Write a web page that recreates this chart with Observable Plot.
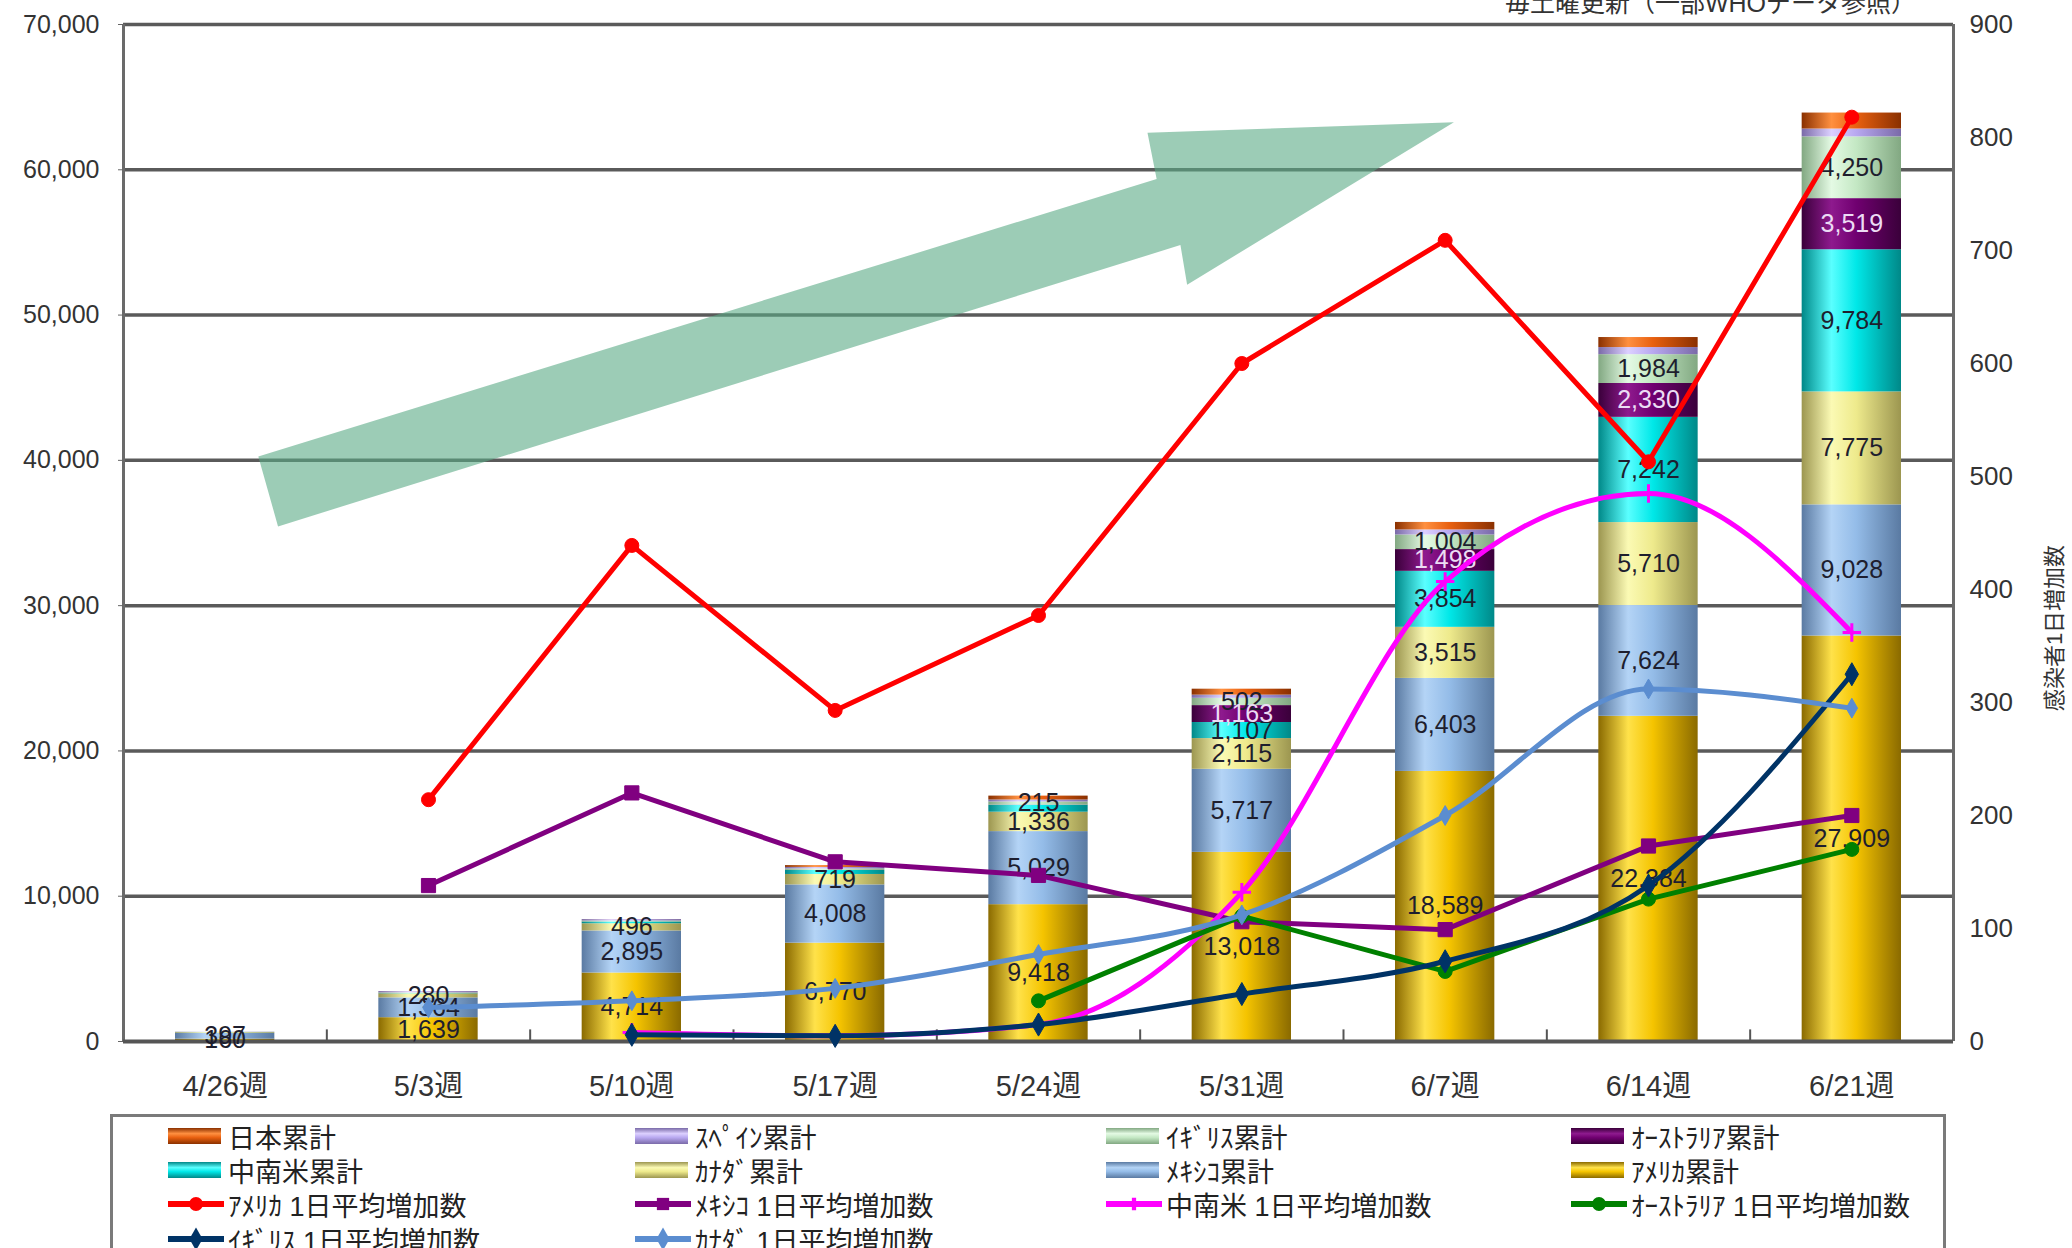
<!DOCTYPE html>
<html><head><meta charset="utf-8">
<script src="https://cdn.jsdelivr.net/npm/d3@7"></script>
<script src="https://cdn.jsdelivr.net/npm/@observablehq/plot@0.6"></script>
<style>
body{margin:0;background:#fff;width:2072px;height:1248px;overflow:hidden;position:relative;font-family:'Liberation Sans','Noto Sans CJK JP',sans-serif;}
#chart{position:absolute;left:0;top:0;}
.note{position:absolute;white-space:nowrap;color:#333;}
#legend{position:absolute;left:110px;top:1114px;width:1836px;height:170px;border:3px solid #7a7a7a;box-sizing:border-box;}
.item{position:absolute;display:flex;align-items:center;font-size:27px;color:#222;white-space:nowrap;height:34px;}
.sw{width:53px;height:16px;margin-right:7px;}
</style></head><body>
<div id="chart"></div>
<div class="note" id="topnote"></div>
<div class="note" id="ytitle"></div>
<div class="note" id="y2title"></div>
<div id="legend"></div>
<script>
// ---------- data ----------
const weeks = ["4/26週","5/3週","5/10週","5/17週","5/24週","5/31週","6/7週","6/14週","6/21週"];
const barSeries = ["ｱﾒﾘｶ累計","ﾒｷｼｺ累計","ｶﾅﾀﾞ累計","中南米累計","ｵｰｽﾄﾗﾘｱ累計","ｲｷﾞﾘｽ累計","ｽﾍﾟｲﾝ累計","日本累計"];
const usCum        = [160, 1639, 4714, 6770, 9418, 13018, 18589, 22384, 27909];
const mexicoCum    = [397, 1364, 2895, 4008, 5029, 5717, 6403, 7624, 9028];
const canadaCum    = [51, 280, 496, 719, 1336, 2115, 3515, 5710, 7775];
const latamCum     = [5, 25, 120, 280, 480, 1107, 3854, 7242, 9784];
const australiaCum = [1, 1, 1, 1, 12, 1163, 1498, 2330, 3519];
const ukCum        = [15, 39, 68, 101, 215, 502, 1004, 1984, 4250];
const spainCum     = [13, 88, 98, 103, 133, 218, 350, 490, 540];
const japanCum     = [0, 4, 4, 125, 267, 410, 514, 690, 1100];
const barValues = [usCum, mexicoCum, canadaCum, latamCum, australiaCum, ukCum, spainCum, japanCum];

const lineNames = ["ｱﾒﾘｶ 1日平均増加数","ﾒｷｼｺ 1日平均増加数","中南米  1日平均増加数","ｵｰｽﾄﾗﾘｱ 1日平均増加数","ｲｷﾞﾘｽ 1日平均増加数","ｶﾅﾀﾞ 1日平均増加数"];
const usDaily        = [null, 214, 439, 293, 377, 600, 709, 513, 818];
const mexicoDaily    = [null, 138, 220, 159, 147, 106, 99, 173, 200];
const latamDaily     = [null, null, 8, 5, 15, 132, 407, 485, 362];
const australiaDaily = [null, null, null, null, 36, 111, 62, 126, 170];
const ukDaily        = [null, null, 6, 5, 15, 42, 71, 138, 325];
const canadaDaily    = [null, 30, 36, 47, 77, 112, 200, 312, 295];
const lineValues = [usDaily, mexicoDaily, latamDaily, australiaDaily, ukDaily, canadaDaily];

const leftTicks = [0, 10000, 20000, 30000, 40000, 50000, 60000, 70000];
const rightTicks = [0, 100, 200, 300, 400, 500, 600, 700, 800, 900];

// decorative trend arrow, in data units (x = week position, y = left-axis value)
const arrowX = [0.663, 5.081, 5.036, 6.543, 5.231, 5.198, 0.760];
const arrowY = [40273, 59364, 62545, 63273, 52091, 54818, 35455];

// ---------- styles ----------
const barColors = [ // [edge dark, highlight, base]
  ["#8a6a00", "#ffe24a", "#f5c400"],
  ["#5a7aa2", "#b4d4f6", "#94bce8"],
  ["#9c9650", "#fbfab4", "#eeea8c"],
  ["#008888", "#5affff", "#00e8e8"],
  ["#3a003a", "#8e1a8e", "#700070"],
  ["#82a882", "#e4fae4", "#c4e8c4"],
  ["#7a6aa8", "#dcd0ff", "#b8a8f0"],
  ["#8a3000", "#ff9040", "#e86010"]
];
const lineStyles = [
  {color: "#ff0000", symbol: "circle", r: 7, curve: "linear"},
  {color: "#800080", symbol: "square", r: 8, curve: "linear"},
  {color: "#ff00ff", symbol: "plus", r: 6, curve: "monotone-x"},
  {color: "#008000", symbol: "circle", r: 7, curve: "linear"},
  {color: "#003366", symbol: "diamond", r: 7, curve: "monotone-x"},
  {color: "#5b8dd0", symbol: "diamond", r: 6, curve: "monotone-x"}
];

const K = 70000 / 900;
const fmt = d3.format(",");

const barData = [];
barSeries.forEach((s, si) => barValues[si].forEach((v, i) => barData.push({i, s, si, v})));

const arrowPts = arrowX.map((x, k) => ({x, y: arrowY[k]}));

const lineMarks = [];
lineValues.forEach((vals, li) => {
  const st = lineStyles[li];
  const pts = vals.map((v, i) => ({i, v})).filter(d => d.v != null);
  lineMarks.push(Plot.line(pts, {x: d => d.i + 0.5, y: d => d.v * K, stroke: st.color, strokeWidth: 5, curve: st.curve}));
  if (st.symbol === "plus") {
    lineMarks.push(Plot.dot(pts, {x: d => d.i + 0.5, y: d => d.v * K, symbol: "plus", r: st.r, stroke: st.color, strokeWidth: 3}));
  } else {
    lineMarks.push(Plot.dot(pts, {x: d => d.i + 0.5, y: d => d.v * K, symbol: st.symbol, r: st.r, fill: st.color, stroke: st.color, strokeWidth: 1}));
  }
});

const labelText = d => {
  if (d.si >= 6) return "";
  if (d.si <= 1 || d.v >= 490 || (d.si === 2 && d.v >= 250) || (d.si === 5 && d.v >= 200)) return fmt(d.v);
  return "";
};

const plot = Plot.plot({
  width: 2072, height: 1110,
  marginLeft: 123, marginRight: 119, marginTop: 24, marginBottom: 69,
  style: {fontFamily: "'Liberation Sans','Noto Sans CJK JP',sans-serif", background: "transparent", color: "#333", overflow: "visible"},
  x: {domain: [0, 9], axis: null},
  y: {domain: [0, 70000], axis: null},
  color: {type: "ordinal", domain: barSeries, range: barSeries.map((s, i) => `url(#grad${i})`)},
  marks: [
    Plot.ruleY(leftTicks.slice(1), {stroke: "#5a5a5a", strokeWidth: 3.5}),
    Plot.ruleX([0, 9], {stroke: "#6a6a6a", strokeWidth: 3}),
    Plot.line(arrowPts, {x: "x", y: "y", fill: "#5aaa85", fillOpacity: 0.6, stroke: "none"}),
    Plot.rectY(barData, {x: "i", interval: 1, y: "v", fill: "s", insetLeft: 52, insetRight: 52}),
    Plot.ruleY([0], {stroke: "#555", strokeWidth: 4}),
    Plot.ruleX(d3.range(1, 9), {y1: 0, y2: 800, stroke: "#555", strokeWidth: 2}),
    Plot.text(barData, Plot.stackY({x: d => d.i + 0.5, y: "v", z: "s", text: d => d.si === 4 ? "" : labelText(d), fontSize: 25, fill: "#1e1e2e"})),
    Plot.text(barData, Plot.stackY({x: d => d.i + 0.5, y: "v", z: "s", text: d => d.si === 4 ? labelText(d) : "", fontSize: 25, fill: "#ecdcf4"})),
    ...lineMarks,
    Plot.axisY(leftTicks, {anchor: "left", tickFormat: fmt, tickSize: 5, tickPadding: 19, fontSize: 25, stroke: "#666"}),
    Plot.axisY(rightTicks.map(v => v * K), {anchor: "right", tickFormat: d => Math.round(d / K), tickSize: 0, tickPadding: 16, fontSize: 26}),
    Plot.axisX(d3.range(9).map(i => i + 0.5), {tickFormat: d => weeks[Math.floor(d)], tickSize: 0, tickPadding: 34, fontSize: 29})
  ]
});

const defs = d3.select(plot).insert("defs", ":first-child");
barColors.forEach((c, i) => {
  const g = defs.append("linearGradient").attr("id", "grad" + i).attr("x1", 0).attr("x2", 1).attr("y1", 0).attr("y2", 0);
  [[0, c[0]], [0.3, c[1]], [0.55, c[2]], [1, c[0]]].forEach(([o, col]) => g.append("stop").attr("offset", o).attr("stop-color", col));
});
document.getElementById("chart").append(plot);

// ---------- titles ----------
const tn = document.getElementById("topnote");
tn.textContent = "毎土曜更新（一部WHOデータ参照）";
Object.assign(tn.style, {right: (2072 - 1916) + "px", top: "-17px", fontSize: "25px"});
const yt = document.getElementById("y2title");
yt.textContent = "感染者1日増加数";
Object.assign(yt.style, {left: "2052px", top: "628px", fontSize: "22px", transform: "translate(-50%,-50%) rotate(-90deg)"});
const yl = document.getElementById("ytitle");
yl.textContent = "感染者累計";
Object.assign(yl.style, {left: "0px", top: "570px", fontSize: "22px", color: "#ccc", transform: "translate(-65%,-50%) rotate(-90deg)"});

// ---------- legend ----------
const legendItems = [
  {name: "日本累計", bar: 7}, {name: "ｽﾍﾟｲﾝ累計", bar: 6}, {name: "ｲｷﾞﾘｽ累計", bar: 5}, {name: "ｵｰｽﾄﾗﾘｱ累計", bar: 4},
  {name: "中南米累計", bar: 3}, {name: "ｶﾅﾀﾞ累計", bar: 2}, {name: "ﾒｷｼｺ累計", bar: 1}, {name: "ｱﾒﾘｶ累計", bar: 0},
  {name: lineNames[0], line: 0}, {name: lineNames[1], line: 1}, {name: lineNames[2], line: 2}, {name: lineNames[3], line: 3},
  {name: lineNames[4], line: 4}, {name: lineNames[5], line: 5}
];
const colX = [55, 522, 993, 1458];
const rowY = [2, 36, 70, 105];
const symMap = {circle: d3.symbolCircle, square: d3.symbolSquare, diamond: d3.symbolDiamond, plus: d3.symbolCross};
const leg = d3.select("#legend");
legendItems.forEach((it, k) => {
  const div = leg.append("div").attr("class", "item")
    .style("left", colX[k % 4] + "px").style("top", rowY[Math.floor(k / 4)] + "px");
  if (it.bar != null) {
    const c = barColors[it.bar];
    div.append("div").attr("class", "sw").style("background", `linear-gradient(to bottom, ${c[0]}, ${c[1]} 35%, ${c[2]} 60%, ${c[0]})`);
  } else {
    const st = lineStyles[it.line];
    const s = div.append("svg").attr("width", 56).attr("height", 24).style("margin-right", "4px");
    s.append("line").attr("x1", 0).attr("x2", 56).attr("y1", 12).attr("y2", 12).attr("stroke", st.color).attr("stroke-width", 6);
    s.append("path").attr("d", d3.symbol(symMap[st.symbol], st.symbol === "plus" ? 90 : 150)()).attr("transform", "translate(28,12)")
      .attr("fill", st.color);
  }
  div.append("span").text(it.name);
});
</script>
</body></html>
